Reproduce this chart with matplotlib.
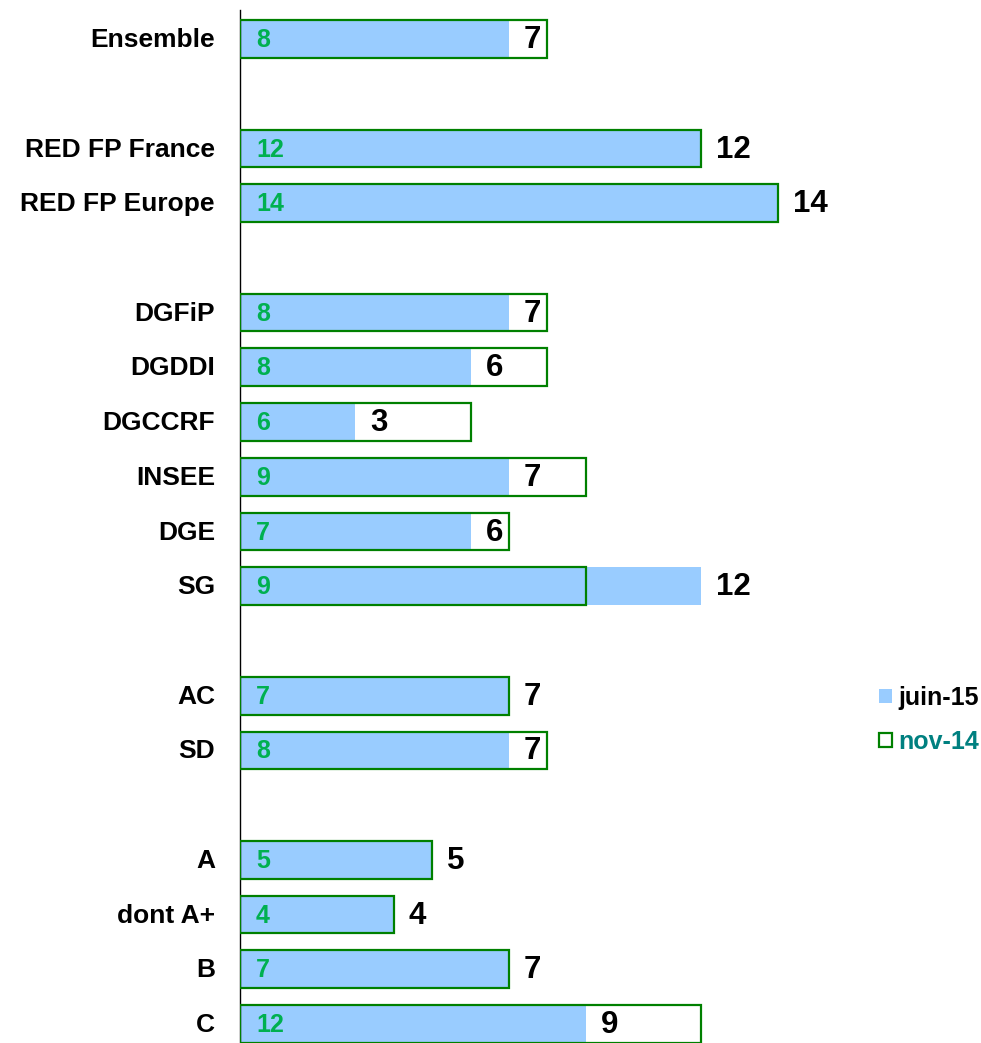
import matplotlib
matplotlib.use("Agg")
import matplotlib.pyplot as plt
from matplotlib.patches import Rectangle

plt.rcParams['font.family'] = ['Liberation Sans', 'DejaVu Sans']

categories = ["Ensemble", "RED FP France", "RED FP Europe", "DGFiP", "DGDDI",
              "DGCCRF", "INSEE", "DGE", "SG", "AC", "SD", "A", "dont A+", "B", "C"]
groups = [0, 1, 1, 2, 2, 2, 2, 2, 2, 3, 3, 4, 4, 4, 4]
juin15 = [7, 12, 14, 7, 6, 3, 7, 6, 12, 7, 7, 5, 4, 7, 9]
nov14 = [8, 12, 14, 8, 8, 6, 9, 7, 9, 7, 8, 5, 4, 7, 12]
series_names = ["juin-15", "nov-14"]

# positions: one slot per row, one empty slot between groups
pos = []
p = 0
prev = groups[0]
for g in groups:
    if g != prev:
        p += 1
        prev = g
    pos.append(p)
    p += 1

W, H = 981, 1043
fig = plt.figure(figsize=(W / 100, H / 100), dpi=100)
ax = fig.add_axes([240 / W, 0, (W - 240) / W, 1033 / H])

slot = 54.7
ax.set_ylim(pos[-1] + (1043 - 1024) / slot, -29 / slot)
pxu = 538 / 14.0
ax.set_xlim(0, (W - 240) / pxu)

bh = 0.69
blue = "#99CCFF"
edge = "#008000"
ax.barh(pos, juin15, height=bh, color=blue, edgecolor="none", zorder=2)
ax.barh(pos, nov14, height=bh, facecolor="none", edgecolor=edge, linewidth=1.6, zorder=3)

for y, j, n, c in zip(pos, juin15, nov14, categories):
    ax.text(16 / pxu, y + 0.02, str(n), color="#00B050", fontsize=18, fontweight="bold",
            ha="left", va="center", zorder=4)
    ax.text(j + 15 / pxu, y + 0.02, str(j), color="black", fontsize=22.5, fontweight="bold",
            ha="left", va="center", zorder=4)
    ax.text(-25 / pxu, y + 0.02, c, color="black", fontsize=19, fontweight="bold",
            ha="right", va="center", clip_on=False)

for s in ["top", "right", "bottom"]:
    ax.spines[s].set_visible(False)
ax.spines["left"].set_linewidth(1.0)
ax.set_xticks([])
ax.set_yticks([])

handles = [Rectangle((0, 0), 1, 1, facecolor=blue, edgecolor="none"),
           Rectangle((0, 0), 1, 1, facecolor="white", edgecolor=edge, linewidth=1.6)]
leg = fig.legend(handles, series_names, loc="center left",
                 bbox_to_anchor=(879 / W, 1 - 720 / H), frameon=False,
                 borderaxespad=0, borderpad=0,
                 prop={"size": 18, "weight": "bold"}, handlelength=0.52,
                 handleheight=0.52, handletextpad=0.25, labelspacing=0.8,
                 labelcolor=["black", "#008080"])

fig.savefig("out.png", dpi=100)
